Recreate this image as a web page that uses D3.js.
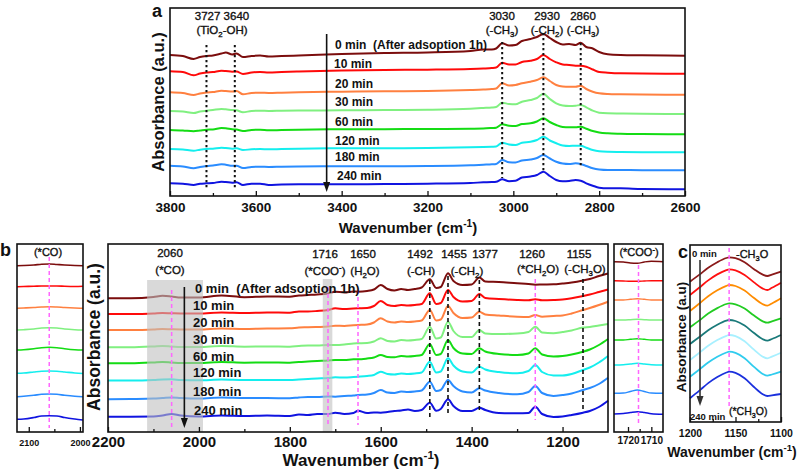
<!DOCTYPE html>
<html><head><meta charset="utf-8">
<script src="https://cdn.jsdelivr.net/npm/d3@7"></script>
<style>
body{margin:0;background:#fff}
svg{display:block}
text{font-family:"Liberation Sans",Arial,Helvetica,sans-serif;fill:#111;white-space:pre}
</style>
</head><body>
<svg id="chart" width="800" height="473"></svg>
<script>
// ---------------- DATA ----------------
const seriesLabels = ["0 min","10 min","20 min","30 min","60 min","120 min","180 min","240 min"];
const colorsAB = ["#7b0d0d","#ff0a0a","#ff8040","#80f080","#14dc14","#14eeee","#2a8cff","#1014e0"];
const colorsC  = ["#8b1a1a","#ff1010","#ff8c00","#22cc22","#1a7a7a","#a8f0ff","#30ccee","#1a30dd"];

// Panel a: 3800-2600 cm-1
const waveA = [3800,3770,3745,3730,3715,3700,3680,3670,3655,3645,3630,3610,3590,3570,3540,3500,3400,3300,3200,3100,3070,3050,3040,3026,3010,2995,2980,2960,2945,2930,2915,2900,2885,2870,2855,2843,2830,2815,2800,2780,2750,2700,2600];
const absA = [
 [145,144,141,143,144,144.5,146.5,147.5,145.5,146.5,143,144,144.5,143.5,144,144.5,146,147,147.5,149,150.5,150.5,151.5,156.7,154.5,155,159,161,163,166,162,158,155.5,156,155,157.3,153,151.5,148,145.7,145,144.7,144.3],
 [128.7,128,124.7,126.5,127.5,128,129.3,129,128.3,128.5,126,127.5,128,127.5,128,128.5,129.5,130,130.3,131,131.5,132,132.5,137.3,135.5,135.5,138,139.3,141,145,141,137.7,135.5,135,134.3,134.3,133.3,130.5,128,127.3,126.7,126.5,126.3],
 [107.7,107,105,106.5,107.5,108,109.3,109,108.5,109,105.7,107,107.3,107,107.3,107.7,108.3,108.7,109,110,110.5,111,111.5,116.7,114.5,115,116.7,118.3,120,122.7,119,115,113.5,113.3,113.3,114.3,111,108.3,106.7,106,105.7,105.5,105.3],
 [89,88.5,87,88.5,89.3,90,91,90.7,90,89.7,87.7,89,89.3,89,89.3,89.5,89.7,90,90.3,91.3,92,92.5,93,97.3,96,95.7,98.3,100,102,106.3,101,96.7,94.5,94,94.3,95,92.7,89.3,87.3,86.7,86.5,86.2,86],
 [70,69.5,68.7,69.5,70.3,70.5,72,71.7,70.7,70.5,69,70,70.3,69.7,70,70.3,70.7,70.8,71,71.3,71.5,72,72.3,75.7,74.3,74,76,76.7,78.5,81.7,78,75,73,72.7,72.7,73.3,71.3,69,67.5,66.7,66.3,66,65.7],
 [51,50.5,49.3,50.3,51,51.3,52.3,52,51.3,51.7,50,50.7,51,50.7,51,51.3,51.7,51.8,52,52.7,53,53.3,53.5,57.3,55.5,55,57.3,58.3,60,63.3,59.5,56.7,54.5,54,54.3,54.3,52.3,50,48.7,48.2,48,47.8,47.7],
 [34.3,33.5,31.7,33,34,34.5,35.7,35.3,34.3,34.3,32,33,33.3,33,33.3,33.5,33.7,33.8,34,34.7,35.3,35.7,36,40,37.7,37.5,39.5,40.5,42,45,41.5,38.3,36.5,36,36.7,36,34,31.7,30.5,30,30,29.8,29.7],
 [16.7,16.3,15,16.3,16.7,17,18.3,18,17.3,17.7,15,16.3,16.3,15,15.5,15.7,15.7,16,16.3,17,17.7,18,18.3,20.7,18.8,19.2,22.5,23.5,25,28.3,24,20,18.7,19,20,19.3,16.7,14.3,12.3,11.7,11.7,11,10.7]
];

// Panel b main: 2200-1100 cm-1
const waveB = [2200,2150,2100,2080,2060,2040,2000,1950,1900,1850,1800,1780,1760,1740,1716,1700,1680,1660,1650,1630,1615,1600,1585,1570,1555,1540,1525,1510,1492,1478,1468,1452,1440,1420,1400,1383,1370,1340,1300,1275,1260,1245,1220,1200,1180,1155,1140,1120,1100];
const absB = [
 [141.7,141.7,143,144.2,143.5,142.5,142.5,144.5,142.8,143.5,143.3,144.5,145,145.5,146.5,148.3,147.5,148.5,148.3,149,150.5,155,151,149.5,151,150,151,152.5,160.7,152,153,166.7,159,155,155.5,162.5,158.5,158,156.7,156,155.3,155.5,155.7,156.5,157.5,159.5,161,164,166.5],
 [126,126,126.5,127,126.7,126.5,126.5,127.5,127,127.5,127.3,128.5,128.5,129,130,131.7,131,131.5,131.7,132,134,139,135,134,135,134.5,135,136,146.7,136,137,150,143,138.5,139,146,142,141,140,139.7,140.7,139.7,140,140.5,141.7,144,145.5,148,150.5],
 [110,110,110.5,111,110.7,110.5,110.5,111.5,111,111.5,111.7,112.5,112.7,113,113.5,114.3,114,114.7,115,115.5,117.5,121.7,118.5,117.5,118.5,118,118.5,119.5,130,119.5,120.5,134,127,122,122.5,128.3,125.5,124.5,123.3,123,125,123.3,124,124.5,126.5,130,132,135,138.3],
 [92.7,92.7,93.5,94,93.5,93,93,94,93.3,93.5,93.3,94,94.5,94.5,95,95,95.5,96.5,96.7,97,98.5,101.7,99,98.5,100,99.5,100,101,113.3,101.5,102.5,118.3,109,103,103,110,106.5,106,106.5,108,113.3,107.5,106.7,108,109.5,112.5,113,114.5,116],
 [76.7,76.7,77.5,78,77.5,77,77,78,77.3,77.5,77.3,78,78.5,79,79.5,80,80,80.7,80.7,81.5,82.5,85,83,82.7,84,83.5,84,85,96,85,86,100,92,86.5,86,91.7,88.5,86,85,86.5,91.7,85.5,83.5,84,85.5,88.3,90.5,95,101],
 [59.5,59.5,60,60.5,60.7,60,59.7,60.5,60,60,60,60.5,61,61.5,62,62.7,62.5,63,63.3,64,65,68.3,66,65.5,66.5,66,66.5,67.5,78.3,67.5,68.5,81.7,74.5,68.5,67.5,73.3,70.5,68,66.7,69,75,68,64.5,64.5,66,70,72.5,77.5,84],
 [40.7,41,41.5,42,42.5,42,41.5,42.5,42,42,41.7,42.5,43,43,43.5,43.3,44,44.5,45,45.5,47,50,47.5,47,48.5,48,48.5,49.5,58.3,49,50,60,54,48.5,47.5,51.7,49.5,47,45.7,48,54,47,44,45,46.5,50,52,56,62.3],
 [23.3,23.3,23.5,24.5,26,24.5,23.5,24.5,24,24.5,24,25.5,25,26,26,27.3,26,27,29.3,27,27.5,27.3,28,29,29.5,30.5,29,30,37.3,29.3,31,40.7,34,29,29,32.3,30,27,26.7,27,33.3,26,23,23.5,25,27.3,29,33,39.3]
];

// Panel b left inset (*CO)
const waveBL = [2123,2110,2090,2075,2060,2045,2030,2010,1994];
const absBL = [
 [174.3,174.5,175,175.7,176,175.5,175,174.5,174.3],
 [153.3,153.5,153.7,154,154,154,153.7,153.5,153.7],
 [131.7,132,132.5,133,133.3,133,132.5,132,131.7],
 [110,110.3,111,112,112.3,112,111,110.3,110],
 [90,90.3,91.3,92.3,92.7,92.3,91.3,90.3,90],
 [66.7,67,68,68.7,69,68.7,68,67,66.5],
 [43.3,43.7,44.7,45.7,46,45.7,44.7,43.7,43.3],
 [20.7,21,22.5,24,24.3,24,22.5,21,20]
];

// Panel b right inset (*COO-)
const waveBR = [1726,1722,1719,1716,1713,1710,1705];
const absBR = [
 [178.3,178,177,176.7,178,178.7,178.3],
 [159.3,159,158.7,158.7,159,159.3,159.3],
 [140,140,140.7,141.3,140.7,140,140],
 [120,120,120.3,120.7,120.3,120,120],
 [100,100,100.7,101.3,100.7,100,100],
 [75,75.3,76,76.7,76,75.3,75],
 [46.7,47,48.5,50,48.5,47,46.7],
 [26,26.5,27.5,28.3,27.5,26.3,25.7]
];

// Panel c: 1200-1100 cm-1
const waveC = [1200,1190,1180,1170,1160,1157,1150,1140,1130,1120,1115,1110,1100];
const absC = [
 [148.3,155.1,162.2,167.8,172,172.7,171.8,167.7,161.1,155.3,154,155.3,158.3],
 [135,142.2,149.6,155.6,159.9,160.7,159.7,155.1,147.9,141.4,140,142.2,147.3],
 [119,126.3,133.8,139.8,144.2,145,144,139.4,132.2,125.7,124.3,126.5,131.7],
 [102.7,109.4,116.4,121.9,126,126.7,125.7,121.5,114.7,108.7,107.3,108.6,111.7],
 [86,92.7,99.7,105.2,109.3,110,109,104.4,97.2,90.7,89.3,91,95],
 [70,77,84.2,90,94.2,95,93.8,88.7,80.6,73.3,71.7,73.4,77.3],
 [53.3,60.3,67.5,73.3,77.5,78.3,77.1,71.8,63.4,56,54.3,55.5,58.3],
 [31.7,39.1,46.9,53,57.5,58.3,57.1,51.7,43.2,35.7,34,34.6,36]
];

// ---------------- DRAW ----------------
const svg = d3.select("#chart");

function rich(g, x, y, parts, o) {
  const fs = o.fs;
  const t = g.append("text").attr("x", x).attr("y", y)
    .attr("text-anchor", o.anchor || "middle")
    .attr("font-size", fs).attr("font-weight", o.fw || "normal");
  if (!o.fw) t.attr("stroke", "#111").attr("stroke-width", 0.35);
  if (o.rotate) t.attr("transform", `rotate(-90,${x},${y})`);
  let shift = 0;
  parts.forEach(p => {
    const s = typeof p === "string" ? {t: p, k: 0} : p;
    const target = s.k === 1 ? fs * 0.3 : s.k === -1 ? -fs * 0.4 : 0;
    const ts = t.append("tspan").text(s.t).attr("dy", target - shift);
    shift = target;
    if (s.k) ts.attr("font-size", fs * 0.68);
  });
  return t;
}

function drawCurves(g, x, y, wave, data, colors, sw) {
  const line = d3.line().x(d => x(d[0])).y(d => y(d[1])).curve(d3.curveMonotoneX);
  data.forEach((vals, i) => {
    g.append("path").attr("d", line(wave.map((w, j) => [w, vals[j]])))
      .attr("fill", "none").attr("stroke", colors[i]).attr("stroke-width", sw)
      .attr("stroke-linejoin", "round");
  });
}

function frame(g, x, y) {
  const [x0, x1] = x.range(), [y0, y1] = y.range();
  g.append("rect").attr("x", x0).attr("y", y1).attr("width", x1 - x0).attr("height", y0 - y1)
    .attr("fill", "none").attr("stroke", "#111").attr("stroke-width", 1.6);
}

function xAxis(g, x, y, major, minor, fs, pad) {
  const y0 = y.range()[0];
  const ax = g.append("g").attr("transform", `translate(0,${y0})`)
    .call(d3.axisBottom(x).tickValues(major).tickSize(-5).tickPadding(pad).tickFormat(d3.format("d")));
  ax.select(".domain").remove();
  ax.selectAll("line").attr("stroke", "#111").attr("stroke-width", 1.3);
  ax.selectAll("text").attr("font-size", fs).attr("font-weight", "bold").attr("fill", "#111")
    .attr("font-family", '"Liberation Sans",Arial,sans-serif');
  if (minor.length) {
    const mi = g.append("g").attr("transform", `translate(0,${y0})`)
      .call(d3.axisBottom(x).tickValues(minor).tickSize(-3).tickFormat(""));
    mi.select(".domain").remove();
    mi.selectAll("line").attr("stroke", "#111").attr("stroke-width", 1.3);
  }
}

function vline(g, xv, ya, yb, color, dash, sw) {
  g.append("line").attr("x1", xv).attr("x2", xv).attr("y1", ya).attr("y2", yb)
    .attr("stroke", color).attr("stroke-dasharray", dash).attr("stroke-width", sw);
}

function arrow(g, xv, ya, yb, color) {
  g.append("line").attr("x1", xv).attr("x2", xv).attr("y1", ya).attr("y2", yb - 8)
    .attr("stroke", color).attr("stroke-width", 1.6);
  g.append("path").attr("d", `M${xv - 3.5},${yb - 10}L${xv + 3.5},${yb - 10}L${xv},${yb}Z`).attr("fill", color);
}

// ===== Panel a =====
const xA = d3.scaleLinear().domain([3800, 2600]).range([170, 685]);
const yA = d3.scaleLinear().domain([4, 192]).range([196, 8]);
const gA = svg.append("g");
drawCurves(gA, xA, yA, waveA, absA, colorsAB, 2);
[[3715,45,188],[3649,45,188],[3026,42,178],[2930,33,172],[2843,43,168]].forEach(m =>
  vline(gA, xA(m[0]), m[1], m[2], "#111", "2.2,2.8", 2));
arrow(gA, xA(3435), 34, 192, "#111");
frame(gA, xA, yA);
xAxis(gA, xA, yA, d3.range(3800, 2599, -200), d3.range(3700, 2699, -200), 13.5, 6);
const labA = [[335,49],[334,68],[335,87.5],[335,106],[335,126],[335,145],[335,161],[337,180]];
seriesLabels.forEach((s, i) => {
  gA.append("text").attr("x", labA[i][0]).attr("y", labA[i][1]).attr("font-size", 12)
    .attr("font-weight", "bold").text(i === 0 ? s + "  (After adsoption 1h)" : s);
});
rich(gA, 222, 20, ["3727 3640"], {fs: 11.5});
rich(gA, 222, 34, ["(TiO", {t: "2", k: 1}, "-OH)"], {fs: 11.5});
rich(gA, 502, 20, ["3030"], {fs: 11.5});
rich(gA, 502, 34, ["(-CH", {t: "3", k: 1}, ")"], {fs: 11.5});
rich(gA, 547, 20, ["2930"], {fs: 11.5});
rich(gA, 547, 34, ["(-CH", {t: "2", k: 1}, ")"], {fs: 11.5});
rich(gA, 583, 20, ["2860"], {fs: 11.5});
rich(gA, 583, 34, ["(-CH", {t: "3", k: 1}, ")"], {fs: 11.5});
rich(gA, 408, 233, ["Wavenumber (cm", {t: "-1", k: -1}, ")"], {fs: 15, fw: "bold"});
rich(gA, 164, 102, ["Absorbance (a.u.)"], {fs: 16.5, fw: "bold", rotate: true});
gA.append("text").attr("x", 152).attr("y", 17).attr("font-size", 18).attr("font-weight", "bold").text("a");

// ===== Panel b main =====
const xB = d3.scaleLinear().domain([2200, 1100]).range([108, 608]);
const yB = d3.scaleLinear().domain([8, 196]).range([432, 244]);
const gB = svg.append("g");
drawCurves(gB, xB, yB, waveB, absB, colorsAB, 2);
gB.append("rect").attr("x", xB(2114)).attr("y", 280).attr("width", xB(1991) - xB(2114)).attr("height", 432 - 280)
  .attr("fill", "#c0c0c0").attr("opacity", 0.6);
gB.append("rect").attr("x", xB(1727.5)).attr("y", 279).attr("width", xB(1706.5) - xB(1727.5)).attr("height", 432 - 279)
  .attr("fill", "#c0c0c0").attr("opacity", 0.6);
[[2060,290,427],[1716,287,425],[1650,290,425],[1260,279,420]].forEach(m =>
  vline(gB, xB(m[0]), m[1], m[2], "#ff66ff", "4,3", 1.5));
[[1492,280,418],[1452,276,415],[1383,280,412],[1155,279,412]].forEach(m =>
  vline(gB, xB(m[0]), m[1], m[2], "#111", "4,3", 1.6));
arrow(gB, xB(2032), 287, 428, "#111");
frame(gB, xB, yB);
xAxis(gB, xB, yB, d3.range(2200, 1199, -200), d3.range(2100, 1199, -200), 15, 4);
const labB = [[195,292.6],[193,309.6],[193,326.6],[193,343.6],[193,360.6],[193,376.6],[193,395.6],[194,414.6]];
seriesLabels.forEach((s, i) => {
  gB.append("text").attr("x", labB[i][0]).attr("y", labB[i][1]).attr("font-size", 13)
    .attr("font-weight", "bold").text(i === 0 ? s + "  (After adsoption 1h)" : s);
});
rich(gB, 170, 257, ["2060"], {fs: 11.5});
rich(gB, 170, 274, ["(*CO)"], {fs: 11.5});
rich(gB, 325, 258, ["1716"], {fs: 11.5});
rich(gB, 325, 275, ["(*COO", {t: "-", k: -1}, ")"], {fs: 11.5});
rich(gB, 363, 258, ["1650"], {fs: 11.5});
rich(gB, 365, 275, ["(H", {t: "2", k: 1}, "O)"], {fs: 11.5});
rich(gB, 420, 258, ["1492"], {fs: 11.5});
rich(gB, 421, 275, ["(-CH)"], {fs: 11.5});
rich(gB, 454, 258, ["1455"], {fs: 11.5});
rich(gB, 485, 258, ["1377"], {fs: 11.5});
rich(gB, 467, 275, ["(-CH", {t: "2", k: 1}, ")"], {fs: 11.5});
rich(gB, 532, 257.5, ["1260"], {fs: 11.5});
rich(gB, 538, 272.5, ["(*CH", {t: "2", k: 1}, "O)"], {fs: 11.5});
rich(gB, 579, 257.5, ["1155"], {fs: 11.5});
rich(gB, 585, 272.5, ["(-CH", {t: "3", k: 1}, "O)"], {fs: 11.5});
rich(gB, 361, 466, ["Wavenumber (cm", {t: "-1", k: -1}, ")"], {fs: 17, fw: "bold"});
rich(gB, 100, 337, ["Absorbance (a.u.)"], {fs: 17.5, fw: "bold", rotate: true});
gB.append("text").attr("x", 0).attr("y", 256).attr("font-size", 18).attr("font-weight", "bold").text("b");

// ===== Panel b left inset =====
const xBL = d3.scaleLinear().domain([2123, 1994]).range([17, 83]);
const gBL = svg.append("g");
drawCurves(gBL, xBL, yB, waveBL, absBL, colorsAB, 1.6);
vline(gBL, xBL(2060), 257, 428, "#ff66ff", "4,3", 1.5);
frame(gBL, xBL, yB);
xAxis(gBL, xBL, yB, [2100, 2000], [2050], 9, 7.5);
rich(gBL, 48, 256, ["(*CO)"], {fs: 11});

// ===== Panel b right inset =====
const xBR = d3.scaleLinear().domain([1726, 1705]).range([614, 663]);
const gBR = svg.append("g");
drawCurves(gBR, xBR, yB, waveBR, absBR, colorsAB, 1.4);
vline(gBR, xBR(1715.5), 265, 425, "#ff66ff", "4,3", 1.5);
frame(gBR, xBR, yB);
xAxis(gBR, xBR, yB, [1720, 1710], [1715], 10, 4.5);
rich(gBR, 639, 256, ["(*COO", {t: "-", k: -1}, ")"], {fs: 11});

// ===== Panel c =====
const xC = d3.scaleLinear().domain([1200, 1100]).range([690, 781]);
const yC = d3.scaleLinear().domain([8, 185]).range([422, 245]);
const gC = svg.append("g");
drawCurves(gC, xC, yC, waveC, absC, colorsC, 1.8);
vline(gC, xC(1157), 248, 407, "#ff66ff", "4,3", 1.5);
arrow(gC, xC(1189), 260, 406, "#333");
frame(gC, xC, yC);
xAxis(gC, xC, yC, [1200, 1150, 1100], [1175, 1125], 10.5, 7.5);
gC.append("text").attr("x", 692).attr("y", 257).attr("font-size", 9.5).attr("font-weight", "bold").text("0 min");
rich(gC, 736, 258, ["-CH", {t: "3", k: 1}, "O"], {fs: 11, anchor: "start"});
gC.append("text").attr("x", 690).attr("y", 420).attr("font-size", 9.5).attr("font-weight", "bold").text("240 min");
rich(gC, 729, 415, ["(*CH", {t: "3", k: 1}, "O)"], {fs: 10.5, anchor: "start"});
rich(gC, 732, 457, ["Wavenumber (cm", {t: "-1", k: -1}, ")"], {fs: 14, fw: "bold"});
rich(gC, 686, 337, ["Absorbance (a.u)"], {fs: 13.5, fw: "bold", rotate: true});
gC.append("text").attr("x", 678).attr("y", 258).attr("font-size", 18).attr("font-weight", "bold").text("c");
</script>
</body></html>
